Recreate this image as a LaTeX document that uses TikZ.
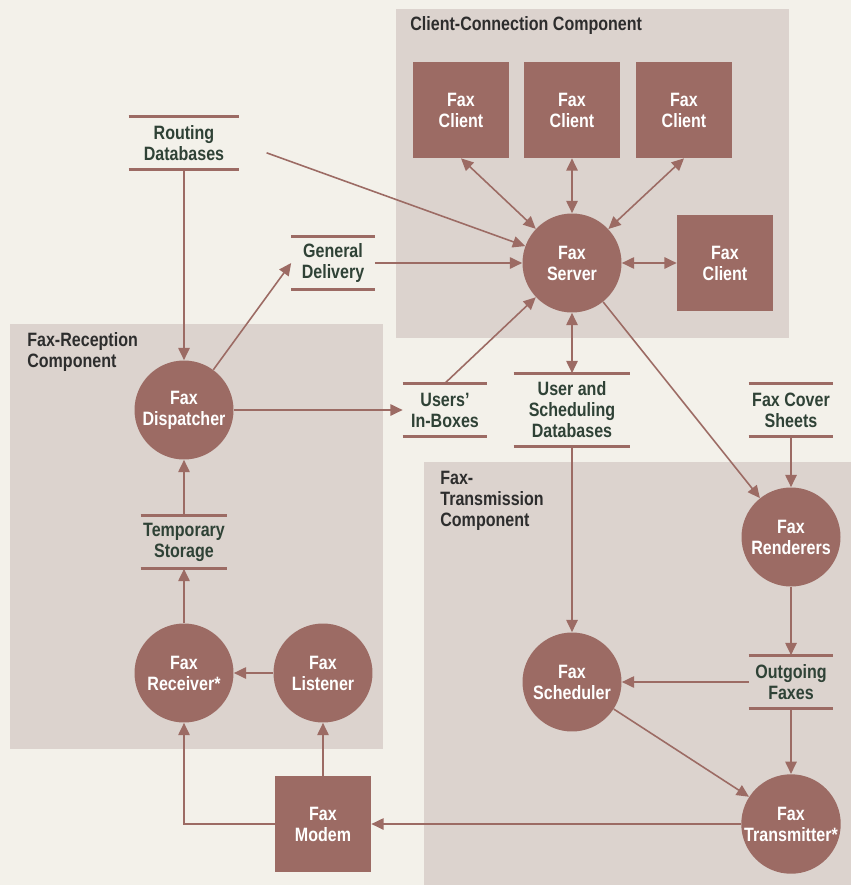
\documentclass[tikz,border=0pt]{standalone}
\usepackage{fontspec}
\setmainfont{Liberation Sans}[FakeStretch=0.83]
\usetikzlibrary{arrows.meta}
\definecolor{faxbrown}{HTML}{9C6B64}
\definecolor{compfill}{HTML}{DCD3CE}
\definecolor{paper}{HTML}{F3F1EA}
\definecolor{storetext}{HTML}{2F4236}
\definecolor{titletext}{HTML}{2D2D2D}

\begin{document}
\begin{tikzpicture}[
    x=0.02cm, y=-0.02cm,
    every node/.style={font=\fontsize{11}{12}\selectfont\bfseries},
    proc/.style={circle, fill=faxbrown, text=white, align=center, inner sep=0pt, minimum size=1.98cm},
    unit/.style={rectangle, fill=faxbrown, text=white, align=center, inner sep=0pt, minimum size=1.92cm},
    storeline/.style={draw=faxbrown, line width=1.7pt},
    store/.style={text=storetext, align=center, inner sep=0pt, minimum width=#1, minimum height=1.06cm,
      append after command={(\tikzlastnode.north west) edge[storeline] (\tikzlastnode.north east)
                            (\tikzlastnode.south west) edge[storeline] (\tikzlastnode.south east)}},
    comp/.style={fill=compfill},
    comptitle/.style={text=titletext, anchor=west, align=left, inner sep=0pt},
    flow/.style={draw=faxbrown, line width=0.9pt, -{Triangle[length=7pt,width=6.5pt]}},
    both/.style={flow, {Triangle[length=7pt,width=6.5pt]}-{Triangle[length=7pt,width=6.5pt]}}
  ]
  \fill[paper] (0,0) rectangle (851,885);

  % component areas
  \fill[comp] (396,9) rectangle (789,338);
  \fill[comp] (10,324) rectangle (383,749);
  \fill[comp] (424,462) rectangle (851,885);
  \node[comptitle] (cctitle) at (410,26) {Client-Connection Component};
  \node[comptitle] (rctitle) at (27,352) {Fax-Reception\\Component};
  \node[comptitle] (tctitle) at (440,501) {Fax-\\Transmission\\Component};

  % client connection
  \node[unit] (client1) at (461,110) {Fax\\Client};
  \node[unit] (client2) at (572,110) {Fax\\Client};
  \node[unit] (client3) at (684,110) {Fax\\Client};
  \node[unit] (client4) at (725,263) {Fax\\Client};
  \node[proc] (server) at (572,263) {Fax\\Server};

  % data stores
  \node[store=2.2cm] (routing) at (184,143) {Routing\\Databases};
  \node[store=1.66cm] (general) at (333,263) {General\\Delivery};
  \node[store=1.68cm] (inboxes) at (445,410) {Users’\\In-Boxes};
  \node[store=2.32cm, minimum height=1.46cm] (userdb) at (572,410) {User and\\Scheduling\\Databases};
  \node[store=1.68cm] (covers) at (791,410) {Fax Cover\\Sheets};

  % reception
  \node[proc] (dispatcher) at (184,410) {Fax\\Dispatcher};
  \node[store=1.72cm] (tempstore) at (184,542) {Temporary\\Storage};
  \node[proc] (receiver) at (184,673) {Fax\\Receiver*};
  \node[proc] (listener) at (323,673) {Fax\\Listener};
  \node[unit] (modem) at (323,824) {Fax\\Modem};

  % transmission
  \node[proc] (renderers) at (791,537) {Fax\\Renderers};
  \node[proc] (scheduler) at (572,682) {Fax\\Scheduler};
  \node[store=1.68cm] (outgoing) at (791,682) {Outgoing\\Faxes};
  \node[proc] (transmitter) at (791,824) {Fax\\Transmitter*};

  \draw[both] (client1.south) -- (server);
  \draw[both] (client2) -- (server);
  \draw[both] (client3.south) -- (server);
  \draw[both] (server) -- (client4);
  \draw[flow, shorten <=0.58cm] (routing.east) -- (server);
  \draw[flow] (routing) -- (dispatcher);
  \draw[flow] (dispatcher) -- (general.west);
  \draw[flow] (general) -- (server);
  \draw[flow] (dispatcher) -- (inboxes);
  \draw[flow] (inboxes.north) -- (server);
  \draw[both] (server) -- (userdb);
  \draw[flow] (server) -- (renderers);
  \draw[flow] (covers) -- (renderers);
  \draw[flow] (userdb) -- (scheduler);
  \draw[flow] (renderers) -- (outgoing);
  \draw[flow] (outgoing) -- (scheduler);
  \draw[flow] (outgoing) -- (transmitter);
  \draw[flow] (scheduler) -- (transmitter);
  \draw[flow] (transmitter) -- (modem);
  \draw[flow] (modem.west) -| (receiver.south);
  \draw[flow] (modem) -- (listener);
  \draw[flow] (listener) -- (receiver);
  \draw[flow] (receiver) -- (tempstore);
  \draw[flow] (tempstore) -- (dispatcher);
\end{tikzpicture}
\end{document}
